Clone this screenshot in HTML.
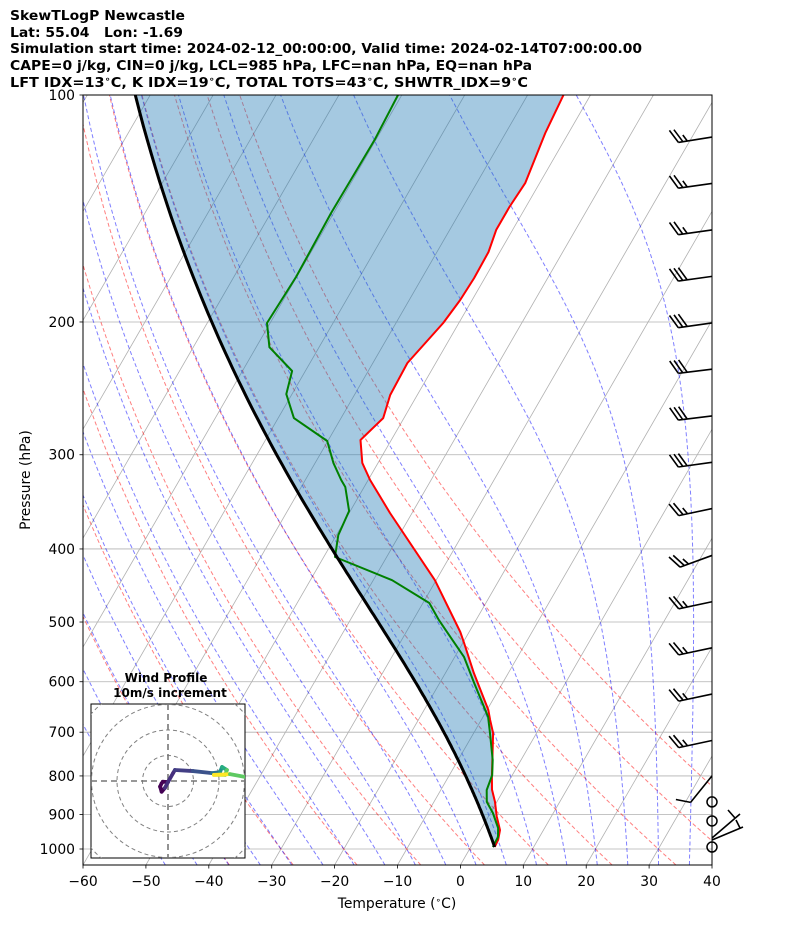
<!DOCTYPE html>
<html><head><meta charset="utf-8"><style>
html,body{margin:0;padding:0;background:#fff;}
svg{display:block;font-family:"DejaVu Sans","Liberation Sans",sans-serif;}
</style></head><body>
<svg id="chart" width="794" height="937" viewBox="0 0 794 937" xmlns="http://www.w3.org/2000/svg">
<defs>
<clipPath id="plotClip"><rect x="83" y="95" width="629" height="770"/></clipPath>
<clipPath id="hodoClip"><rect x="91" y="704" width="154" height="154"/></clipPath>
</defs>
<g font-weight="bold" font-size="13" fill="#000">
<text x="10" y="20" textLength="175" lengthAdjust="spacingAndGlyphs">SkewTLogP Newcastle</text>
<text x="10" y="37" xml:space="preserve" textLength="173" lengthAdjust="spacingAndGlyphs">Lat: 55.04   Lon: -1.69</text>
<text x="10" y="53" textLength="632" lengthAdjust="spacingAndGlyphs">Simulation start time: 2024-02-12_00:00:00, Valid time: 2024-02-14T07:00:00.00</text>
<text x="10" y="70" textLength="522" lengthAdjust="spacingAndGlyphs">CAPE=0 j/kg, CIN=0 j/kg, LCL=985 hPa, LFC=nan hPa, EQ=nan hPa</text>
<text x="10" y="87" textLength="518" lengthAdjust="spacingAndGlyphs">LFT IDX=13<tspan font-size="9" dy="-5">∘</tspan><tspan dy="5">C, K IDX=19</tspan><tspan font-size="9" dy="-5">∘</tspan><tspan dy="5">C, TOTAL TOTS=43</tspan><tspan font-size="9" dy="-5">∘</tspan><tspan dy="5">C, SHWTR_IDX=9</tspan><tspan font-size="9" dy="-5">∘</tspan><tspan dy="5">C</tspan></text>
</g>
<g id="plot" clip-path="url(#plotClip)"></g>
<rect x="83" y="95" width="629" height="770" fill="none" stroke="#000" stroke-width="1"/>
<g id="axes"></g>
<text x="397" y="908" text-anchor="middle" font-size="13.9">Temperature (<tspan font-size="9" dy="-5">∘</tspan><tspan dy="5">C)</tspan></text>
<text x="30" y="480" text-anchor="middle" font-size="13.9" transform="rotate(-90 30 480)">Pressure (hPa)</text>
<g id="barbs"></g>
<g id="hodo">
<text x="166" y="682" text-anchor="middle" font-size="12" font-weight="bold">Wind Profile</text>
<text x="170" y="697" text-anchor="middle" font-size="12" font-weight="bold">10m/s increment</text>
<rect x="91" y="704" width="154" height="154" fill="#fff" stroke="#000" stroke-width="1"/>
<g id="hodoInner" clip-path="url(#hodoClip)"></g>
</g>
</svg>
<script>
// ---- data ----
const tempP = [994,973,944,905,866,834,802,702,674,654,584,533,515.5,440,358.4,324,307.6,286.8,268.2,250,226.7,200.6,187,174.9,161.5,151,140.8,130.8,112.3,100];
const tempT = [3.8,3.7,3.1,1.3,-0.3,-1.9,-3.1,-6.9,-8.6,-9.8,-15.5,-19.8,-21.4,-30.2,-43.5,-49.7,-52.5,-54.9,-53.3,-54.3,-54.5,-52.5,-51.9,-51.7,-51.8,-52.6,-52.6,-52.3,-53.7,-54.3];
const dewP = [994,964,938,896,866,835,798,762,702,668,602.5,556.5,497,471.8,440,410,383.4,356.2,331,324,307.6,287.7,268.2,249.3,232.3,216,200.6,174.3,143.4,114.7,100];
const dewTd = [3.5,3.4,2.6,0.4,-1.6,-2.7,-3.2,-4.5,-7.4,-9.2,-14.5,-18.5,-25.9,-29,-37,-48.2,-49.7,-50.2,-53,-54.3,-57.1,-60.1,-67.5,-70.9,-72.1,-77.9,-80.5,-80.1,-80.4,-80.2,-80.6];
const pressureTicks = [100,200,300,400,500,600,700,800,900,1000];
const tempTicks = [-60,-50,-40,-30,-20,-10,0,10,20,30,40];
const dryAdiabatT0 = [-40,-30,-20,-10,0,10,20,30,40,50];
const moistAdiabatT0 = [-50,-45,-40,-35,-30,-25,-20,-15,-10,-5,0,5,10,15,20,25,30,35,40,45];
const barbP = [113.7,131,151,174,200.6,231,266.5,307,353.6,408,470,541,623,718,800];
const barbSpd = [25,25,25,30,30,30,30,30,25,25,25,25,25,25,10];
const barbDir = [261,262,262,262,262,263,263,262,258,250,258,258,258,258,219];
const calmP = [866,918,994];
const hodoU = [0,-2.0,-2.5,-3.1,-2.5,-1.2,0,2.0,2.7,9.8,17.3,20.4,21.2,23.1,22.4,18.0,24.3,30.2];
const hodoV = [-0.4,-0.3,-0.9,-2.2,-4.2,-2.7,-0.4,3.1,4.3,3.9,3.1,3.5,5.5,4.3,2.4,2.4,2.7,1.6];
const hodoColor = ['#440154','#440154','#440154','#440154','#440154','#440154','#46307e','#46307e','#472f7d','#433e85','#3b528b','#2c728e','#21918c','#27ad81','#5ec962','#aadc32','#fde725','#5ec962'];

// ---- axis functions ----
const NS = 'http://www.w3.org/2000/svg';
function Y(p){ return 849 - 754*(3 - Math.log10(p)); }
function X(T,p){ return 83 + (T+60)*6.29 + 0.5774*(865 - Y(p)); }
function mk(tag, attrs, parent){ const e=document.createElementNS(NS,tag); for(const k in attrs) e.setAttribute(k,attrs[k]); parent.appendChild(e); return e; }
function ptsStr(arr){ return arr.map(a=>a[0].toFixed(1)+','+a[1].toFixed(1)).join(' '); }

function dTdp(p,T){
  const es=6.112*Math.exp(17.67*(T-273.15)/(T-29.65));
  const rs=0.622*es/Math.max(p-es,1e-3);
  return (1/p)*(287.04*T+2.501e6*rs)/(1005.7+2.501e6*2.501e6*rs*0.622/(287.04*T*T));
}
function moist(p0,T0c,p1,step){
  let p=p0, T=T0c+273.15; const out=[[p,T-273.15]];
  const n=Math.ceil(Math.abs(p1-p0)/step); const h=(p1-p0)/n;
  for(let i=0;i<n;i++){
    const k1=dTdp(p,T), k2=dTdp(p+h/2,T+h/2*k1), k3=dTdp(p+h/2,T+h/2*k2), k4=dTdp(p+h,T+h*k3);
    T+=h/6*(k1+2*k2+2*k3+k4); p+=h; out.push([p,T-273.15]);
  }
  return out;
}

const plot=document.getElementById('plot');
const axes=document.getElementById('axes');

for(let T=-170;T<=50;T+=10){
  const l=mk('line',{x1:X(T,1050),y1:Y(1050),x2:X(T,100),y2:Y(100),stroke:'#b0b0b0','stroke-width':0.8},plot);
  
  
}
pressureTicks.forEach(p=>{
  const l=mk('line',{x1:83,y1:Y(p),x2:712,y2:Y(p),stroke:'#b0b0b0','stroke-width':0.8},plot);
  
  
});
const pGrid=[]; for(let p=1050;p>=100;p-=10) pGrid.push(p);
dryAdiabatT0.forEach(t0=>{
  const th=t0+273.15;
  const pts=pGrid.map(p=>[X(th*Math.pow(p/1000,0.2857)-273.15,p),Y(p)]);
  const l=mk('polyline',{points:ptsStr(pts),fill:'none',stroke:'#ff0000','stroke-opacity':0.5,'stroke-width':1,'stroke-dasharray':'4,2.5'},plot);
  
  
});
moistAdiabatT0.forEach(t0=>{
  const down=moist(1000,t0,1050,10).reverse();
  const up=moist(1000,t0,100,10);
  const pts=down.concat(up.slice(1)).map(a=>[X(a[1],a[0]),Y(a[0])]);
  const l=mk('polyline',{points:ptsStr(pts),fill:'none',stroke:'#0000ff','stroke-opacity':0.5,'stroke-width':1,'stroke-dasharray':'4,2.5'},plot);
  
  
});
const parcel=moist(tempP[0],tempT[0],100,5);
const tempPts=tempP.map((p,i)=>[X(tempT[i],p),Y(p)]);
const parcelPts=parcel.map(a=>[X(a[1],a[0]),Y(a[0])]);
const fill=mk('polygon',{points:ptsStr(tempPts.concat(parcelPts.slice().reverse())),fill:'#1f77b4','fill-opacity':0.4,stroke:'none'},plot);


const tl=mk('polyline',{points:ptsStr(tempPts),fill:'none',stroke:'#ff0000','stroke-width':2,'stroke-linejoin':'round'},plot);


const dl=mk('polyline',{points:ptsStr(dewP.map((p,i)=>[X(dewTd[i],p),Y(p)])),fill:'none',stroke:'#008000','stroke-width':2,'stroke-linejoin':'round'},plot);


const pl=mk('polyline',{points:ptsStr(parcelPts),fill:'none',stroke:'#000','stroke-width':3},plot);



pressureTicks.forEach(p=>{
  mk('line',{x1:79.5,y1:Y(p),x2:83,y2:Y(p),stroke:'#000','stroke-width':0.8},axes);
  const t=mk('text',{x:75,y:Y(p)+5,'text-anchor':'end','font-size':13.9},axes);
  t.textContent=p;
  
  
});
tempTicks.forEach(T=>{
  const x=X(T,1050);
  mk('line',{x1:x,y1:865,x2:x,y2:868.5,stroke:'#000','stroke-width':0.8},axes);
  const t=mk('text',{x:x,y:886,'text-anchor':'middle','font-size':13.9},axes);
  t.textContent=(T<0?'\u2212'+(-T):T);
  
  
});

const bg=document.getElementById('barbs');
barbP.forEach((p,i)=>{
  const d=barbDir[i]*Math.PI/180;
  const sx=Math.sin(d), sy=-Math.cos(d);
  const x0=712,y0=Y(p),L=34;
  const ex=x0+sx*L, ey=y0+sy*L;
  let px=-sy, py=sx; if(py>0){px=-px;py=-py;}
  let bx=px*0.85+sx*0.45, by=py*0.85+sy*0.45; const bn=Math.hypot(bx,by); bx/=bn; by/=bn;
  let s=barbSpd[i], k=0, path='M'+x0+','+y0+'L'+ex.toFixed(1)+','+ey.toFixed(1);
  while(s>=10){ const cx=ex-sx*k*4.5, cy=ey-sy*k*4.5; path+='M'+cx.toFixed(1)+','+cy.toFixed(1)+'l'+(bx*15).toFixed(1)+','+(by*15).toFixed(1); s-=10; k++; }
  if(s>=5){ const cx=ex-sx*k*4.5, cy=ey-sy*k*4.5; path+='M'+cx.toFixed(1)+','+cy.toFixed(1)+'l'+(bx*7.5).toFixed(1)+','+(by*7.5).toFixed(1); }
  const b=mk('path',{d:path,fill:'none',stroke:'#000','stroke-width':1.6},bg);
  
  
});
calmP.forEach(p=>{
  const c=mk('circle',{cx:712,cy:Y(p),r:5,fill:'none',stroke:'#000','stroke-width':1.5},bg);
  
  
});
const eb=mk('path',{d:'M712,838L740,814M735,818l-7,-8M712,840L743,827M740,828l-4,-8',fill:'none',stroke:'#000','stroke-width':1.6},bg);



const hg=document.getElementById('hodoInner');
const hcx=168,hcy=781,hs=2.55;
[1,2,3,4].forEach(k=>{
  const c=mk('circle',{cx:hcx,cy:hcy,r:k*10*hs,fill:'none',stroke:'#808080','stroke-width':1,'stroke-dasharray':'4,3'},hg);
  
  
});
mk('line',{x1:91,y1:hcy,x2:245,y2:hcy,stroke:'#777','stroke-width':1.6,'stroke-dasharray':'6,4'},hg);
mk('line',{x1:hcx,y1:704,x2:hcx,y2:858,stroke:'#777','stroke-width':1.6,'stroke-dasharray':'6,4'},hg);
for(let i=1;i<hodoU.length;i++){
  const s=mk('line',{x1:hcx+hodoU[i-1]*hs,y1:hcy-hodoV[i-1]*hs,x2:hcx+hodoU[i]*hs,y2:hcy-hodoV[i]*hs,stroke:hodoColor[i],'stroke-width':3.8,'stroke-linecap':'round'},hg);
  
  
}
</script>
</body></html>
